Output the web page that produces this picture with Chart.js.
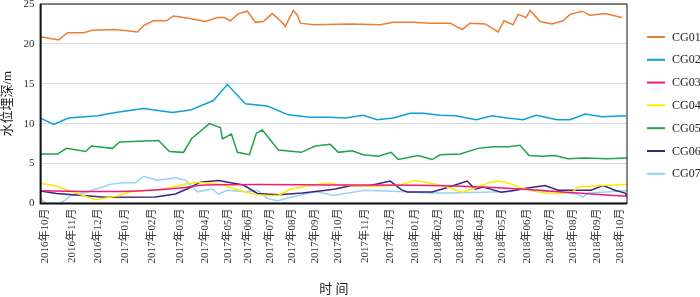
<!DOCTYPE html>
<html>
<head>
<meta charset="utf-8">
<script src="https://cdn.jsdelivr.net/npm/chart.js@4.4.1/dist/chart.umd.min.js"></script>
<style>
  html, body { margin: 0; padding: 0; background: #fff; }
  #wrap { width: 700px; height: 297px; }
</style>
</head>
<body>
<div id="wrap"><canvas id="chart" width="700" height="297"></canvas></div>
<script>
// x = position along the (irregular) observation axis, y = water table depth (m)
var monthTicks = [5, 32, 58, 85, 112, 140, 165, 188, 208, 230, 252, 275, 298, 325, 350, 375, 398, 420, 440, 462, 487, 510, 533, 557, 580];
var monthLabels = ["2016年10月", "2016年11月", "2016年12月", "2017年01月", "2017年02月", "2017年03月", "2017年04月", "2017年05月", "2017年06月", "2017年07月", "2017年08月", "2017年09月", "2017年10月", "2017年11月", "2017年12月", "2018年01月", "2018年02月", "2018年03月", "2018年04月", "2018年05月", "2018年06月", "2018年07月", "2018年08月", "2018年09月", "2018年10月"];

var seriesNames = ["CG01", "CG02", "CG03", "CG04", "CG05", "CG06", "CG07"];
var seriesColors = ["#ED7D31", "#0BA0DC", "#EC1C7C", "#FFE800", "#1EA34A", "#3F2180", "#96D2F2"];

var cg01 = [[0,20.9],[18,20.5],[27,21.4],[43,21.4],[52,21.7],[75,21.8],[97,21.5],[103,22.3],[113,22.9],[126,22.9],[133,23.5],[148,23.2],[165,22.8],[177,23.3],[184,23.3],[190,22.9],[198,23.8],[207,24.1],[215,22.7],[223,22.8],[232,23.8],[240,22.9],[245,22.2],[253,24.2],[257,23.6],[260,22.6],[273,22.4],[310,22.5],[340,22.4],[353,22.7],[373,22.7],[390,22.6],[410,22.6],[422,21.8],[430,22.6],[445,22.5],[458,21.5],[464,22.9],[473,22.4],[478,23.7],[486,23.3],[490,24.2],[500,22.8],[512,22.5],[523,22.9],[530,23.7],[542,24.1],[550,23.6],[565,23.8],[582,23.3]];
var cg02 = [[0,10.7],[13,9.9],[28,10.7],[57,11.0],[75,11.4],[103,11.9],[132,11.4],[150,11.7],[173,12.9],[187,14.9],[205,12.5],[227,12.2],[248,11.1],[270,10.8],[290,10.8],[305,10.7],[323,11.05],[337,10.5],[353,10.7],[370,11.3],[383,11.3],[400,11.05],[415,11.0],[436,10.5],[452,11.0],[467,10.7],[483,10.5],[496,11.05],[517,10.5],[530,10.5],[545,11.2],[562,10.85],[586,11.0]];
var cg03 = [[0,1.6],[80,1.5],[137,1.9],[165,2.3],[310,2.3],[390,2.25],[442,2.06],[488,1.75],[538,1.3],[587,0.9]];
var cg04 = [[0,2.5],[15,2.2],[31,1.5],[55,0.45],[78,0.97],[91,1.5],[108,1.65],[120,1.7],[137,2.2],[148,2.5],[157,2.66],[180,2.4],[203,1.5],[217,1.1],[227,1.0],[238,1.0],[250,1.77],[272,2.3],[288,2.57],[300,2.3],[312,2.24],[335,2.15],[359,2.28],[375,2.9],[392,2.5],[405,2.15],[422,1.4],[435,1.94],[448,2.57],[458,2.8],[468,2.57],[481,1.94],[505,1.3],[521,1.23],[533,1.5],[538,2.06],[561,2.24],[587,2.36]];
var cg05 = [[0,6.2],[17,6.2],[26,6.9],[45,6.5],[51,7.2],[72,6.9],[79,7.7],[118,7.9],[129,6.5],[143,6.4],[151,8.1],[169,10.0],[180,9.5],[182,8.1],[191,8.7],[197,6.4],[209,6.1],[216,8.8],[222,9.2],[238,6.7],[261,6.4],[275,7.2],[290,7.4],[298,6.4],[312,6.6],[323,6.1],[338,5.9],[351,6.4],[358,5.5],[378,6.0],[392,5.5],[400,6.1],[420,6.2],[438,6.9],[453,7.1],[468,7.1],[480,7.3],[489,6.0],[502,5.9],[515,6.0],[528,5.6],[545,5.7],[567,5.6],[587,5.7]];
var cg06 = [[0,1.55],[16,1.25],[36,1.05],[65,0.76],[115,0.8],[135,1.18],[148,1.9],[160,2.66],[178,2.87],[203,2.3],[217,1.25],[238,1.1],[262,1.3],[282,1.6],[295,1.8],[310,2.2],[330,2.24],[350,2.8],[361,1.73],[367,1.43],[392,1.43],[409,2.06],[427,2.8],[435,1.8],[443,2.06],[452,1.73],[461,1.4],[475,1.65],[488,1.94],[505,2.24],[518,1.65],[551,1.65],[563,2.24],[575,1.65],[585,1.3],[587,0.9]];
var cg07 = [[0,0.6],[5,0],[20,0],[30,0.97],[48,1.5],[70,2.4],[83,2.6],[95,2.6],[103,3.4],[117,2.9],[135,3.2],[145,2.9],[157,1.45],[172,1.8],[178,1.15],[187,1.65],[205,1.45],[217,1.65],[227,0.6],[237,0.34],[252,0.8],[262,1.1],[275,1.5],[293,1.0],[310,1.35],[325,1.65],[359,1.5],[392,1.3],[409,1.3],[442,1.4],[471,1.5],[485,1.94],[495,1.5],[521,1.5],[538,1.1],[543,0.8],[548,1.3],[587,1.6]];

var yTicks = [0, 5, 10, 15, 20, 25];

var allSeries = [cg01, cg02, cg03, cg04, cg05, cg06, cg07];
var serif = "'Liberation Serif', 'Noto Sans CJK SC', serif";

var datasets = allSeries.map(function(s, i) {
    return {
        label: seriesNames[i],
        data: s.map(function(p) { return { x: p[0], y: p[1] }; }),
        borderColor: seriesColors[i],
        backgroundColor: seriesColors[i],
        borderWidth: 1.5,
        pointRadius: 0,
        tension: i === 2 ? 0.4 : 0,
        fill: false
    };
});

// legend at the right: short line + name
var sideLegend = {
    id: 'sideLegend',
    afterDraw: function(chart) {
        var ctx = chart.ctx;
        var left = chart.chartArea.right + 20;
        ctx.save();
        ctx.font = "12px " + serif;
        ctx.textBaseline = 'middle';
        chart.data.datasets.forEach(function(ds, i) {
            var y = 37 + i * 22.8;
            ctx.strokeStyle = ds.borderColor;
            ctx.lineWidth = 2;
            ctx.beginPath();
            ctx.moveTo(left, y);
            ctx.lineTo(left + 18, y);
            ctx.stroke();
            ctx.fillStyle = '#222';
            ctx.fillText(ds.label, left + 25, y + 0.5);
        });
        ctx.restore();
    }
};

// black frame round the plot
var frame = {
    id: 'frame',
    afterDatasetsDraw: function(chart) {
        var a = chart.chartArea, ctx = chart.ctx;
        ctx.save();
        ctx.strokeStyle = '#111';
        ctx.lineWidth = 1;
        ctx.strokeRect(a.left, a.top, a.right - a.left, a.bottom - a.top);
        ctx.lineWidth = 2;
        ctx.beginPath();
        ctx.moveTo(a.left, a.top);
        ctx.lineTo(a.left, a.bottom);
        ctx.lineTo(a.right, a.bottom);
        ctx.stroke();
        ctx.restore();
    }
};

var ctx = document.getElementById('chart').getContext('2d');
var chart = new Chart(ctx, {
    type: 'line',
    data: { datasets: datasets },
    plugins: [sideLegend, frame],
    options: {
        responsive: false,
        animation: false,
        layout: { padding: { left: 0, right: 73, top: 4, bottom: 0 } },
        plugins: {
            legend: { display: false },
            tooltip: { enabled: false }
        },
        scales: {
            x: {
                type: 'linear',
                min: 0,
                max: 587,
                afterBuildTicks: function(scale) {
                    scale.ticks = monthTicks.map(function(v) { return { value: v }; });
                },
                grid: { display: false, drawTicks: false },
                border: { display: false },
                ticks: {
                    autoSkip: false,
                    minRotation: 90,
                    maxRotation: 90,
                    padding: 5,
                    color: '#333',
                    font: { family: serif, size: 11 },
                    callback: function(value, index) { return monthLabels[index]; }
                },
                title: {
                    display: true,
                    text: '时 间',
                    color: '#222',
                    font: { family: serif, size: 13 },
                    padding: { top: 13, bottom: 0 }
                }
            },
            y: {
                min: 0,
                max: 25,
                afterBuildTicks: function(scale) {
                    scale.ticks = yTicks.map(function(v) { return { value: v }; });
                },
                afterFit: function(scale) {
                    scale.paddingTop = 0;
                },
                grid: { color: '#dcdcdc', lineWidth: 1, drawTicks: false },
                border: { display: false },
                ticks: {
                    padding: 6,
                    color: '#333',
                    font: { family: serif, size: 11 }
                },
                title: {
                    display: true,
                    text: '水位埋深/m',
                    color: '#222',
                    font: { family: serif, size: 13 },
                    padding: { top: 0, bottom: 2 }
                }
            }
        }
    }
});
</script>
</body>
</html>
